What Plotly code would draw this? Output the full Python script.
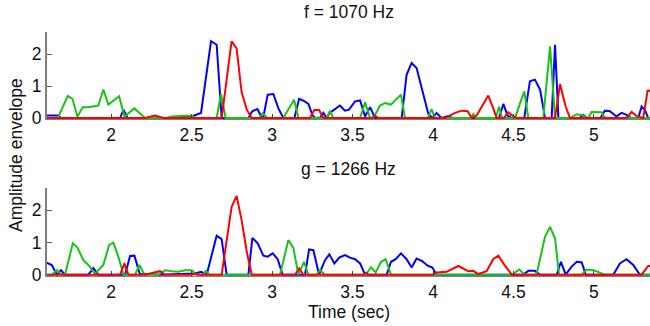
import plotly.graph_objects as go

# ---------------- data (time in sec, amplitude envelope) ----------------
x_ticks = [2, 2.5, 3, 3.5, 4, 4.5, 5]
x_tick_labels = ["2", "2.5", "3", "3.5", "4", "4.5", "5"]
y_ticks = [0, 1, 2]
y_tick_labels = ["0", "1", "2"]
titles = ["f = 1070 Hz", "g = 1266 Hz"]

# --- top panel: f = 1070 Hz ---
f_blue_t = [1.60, 1.67, 1.69, 2.056, 2.077, 2.103, 2.40, 2.45, 2.49, 2.522, 2.559, 2.621, 2.656, 2.687,
            2.853, 2.877, 2.909, 2.936, 2.945, 2.973, 3.008, 3.039, 3.07, 3.139, 3.168, 3.195, 3.226,
            3.25, 3.267, 3.30, 3.319, 3.339, 3.36, 3.391, 3.422, 3.453, 3.478, 3.516, 3.547, 3.578,
            3.609, 3.64, 3.805, 3.836, 3.867, 3.898, 3.939, 3.971, 3.996, 4.022, 4.053, 4.095, 4.12,
            4.41, 4.437, 4.463, 4.49, 4.567, 4.602, 4.633, 4.665, 4.696, 4.737, 4.758, 4.779, 4.91,
            4.934, 4.955, 5.04, 5.068, 5.099, 5.14, 5.171, 5.202, 5.23, 5.275, 5.296, 5.317, 5.337, 5.35]
f_blue_v = [0.08, 0.08, 0, 0, 0.26, 0, 0, 0.03, 0.03, 0.10, 0.16, 2.40, 2.29, 0,
            0, 0.21, 0.28, 0.02, 0, 0.73, 0.75, 0.31, 0, 0, 0.60, 0.54, 0.44,
            0.10, 0, 0.02, 0.16, 0, 0.17, 0.28, 0.39, 0.23, 0.26, 0.52, 0.55, 0.05,
            0.34, 0, 0, 1.35, 1.72, 1.56, 0.73, 0.125, 0, 0.16, 0, 0.06, 0,
            0, 0.44, 0.08, 0, 0, 1.15, 1.20, 0.89, 0, 0, 2.29, 0, 0,
            0.10, 0, 0, 0.23, 0.21, 0.05, 0.16, 0.10, 0, 0, 0.36, 0.25, 0, 0]

f_green_t = [1.60, 1.669, 1.731, 1.760, 1.791, 1.824, 1.859, 1.921, 1.952, 1.983, 2.050, 2.083, 2.145,
             2.211, 2.34, 2.38, 2.45, 2.50, 2.53, 2.656, 2.683, 2.712, 2.92, 2.942, 2.97, 3.07, 3.137,
             3.164, 3.34, 3.36, 3.38, 3.547, 3.578, 3.609, 3.63, 3.671, 3.702, 3.739, 3.801, 3.826,
             3.967, 3.991, 4.012, 4.236, 4.25, 4.266, 4.39, 4.41, 4.43, 4.509, 4.567, 4.592, 4.685,
             4.727, 4.758, 4.851, 4.893, 4.934, 4.965, 4.985, 5.048, 5.068, 5.35]
f_green_v = [0, 0, 0.69, 0.60, 0.04, 0.34, 0.34, 0.39, 0.89, 0.42, 0.68, 0.05, 0.30,
             0, 0, 0.05, 0.07, 0.07, 0, 0, 0.75, 0, 0, 0.15, 0, 0, 0.57,
             0, 0, 0.23, 0, 0, 0.49, 0, 0, 0.39, 0.47, 0.42, 0.73, 0,
             0, 0.28, 0, 0, 0.12, 0, 0, 0.35, 0, 0, 0.83, 0, 0,
             2.24, 0, 0, 0.12, 0.08, 0, 0.19, 0.18, 0, 0]

f_red_t = [1.60, 2.211, 2.273, 2.325, 2.687, 2.749, 2.78, 2.811, 2.843, 2.874, 3.236, 3.262, 3.292,
           3.319, 3.62, 3.64, 3.66, 4.075, 4.137, 4.178, 4.215, 4.24, 4.271, 4.343, 4.374, 4.395,
           4.44, 4.467, 4.50, 4.52, 4.758, 4.789, 4.824, 4.851, 5.202, 5.234, 5.265, 5.306, 5.333, 5.35]
f_red_v = [0, 0, 0.08, 0, 0, 2.40, 2.17, 0.81, 0.26, 0, 0, 0.25, 0.25,
           0, 0, 0.07, 0, 0, 0.16, 0.23, 0.21, 0, 0.08, 0.70, 0.31, 0,
           0, 0.18, 0.05, 0, 0, 1.06, 0.36, 0, 0, 0.19, 0.06, 0, 0.85, 0.85]

# --- bottom panel: g = 1266 Hz ---
g_blue_t = [1.60, 1.632, 1.663, 1.689, 1.714, 1.859, 1.89, 1.921, 2.087, 2.118, 2.145, 2.18, 2.20,
            2.26, 2.30, 2.522, 2.559, 2.594, 2.656, 2.687, 2.718, 2.853, 2.878, 2.911, 2.946, 2.973,
            3.004, 3.035, 3.066, 3.205, 3.23, 3.257, 3.292, 3.329, 3.356, 3.387, 3.418, 3.453, 3.484,
            3.516, 3.547, 3.578, 3.712, 3.739, 3.768, 3.801, 3.836, 3.867, 3.898, 3.933, 3.967, 3.996,
            4.022, 4.56, 4.592, 4.633, 4.665, 4.768, 4.795, 4.824, 4.861, 4.893, 4.924, 4.949, 5.12,
            5.161, 5.202, 5.244, 5.285, 5.35]
g_blue_v = [0.37, 0.30, 0, 0.14, 0, 0, 0.20, 0, 0, 0.58, 0.59, 0, 0.03,
            0.02, 0, 0.04, 0.09, 0, 1.21, 1.10, 0, 0, 1.14, 0.97, 0.59, 0.56,
            0.66, 0.48, 0, 0, 0.78, 0.76, 0, 0.45, 0.63, 0.35, 0.53, 0.61, 0.53,
            0.48, 0.35, 0, 0, 0.40, 0.48, 0.66, 0.48, 0.22, 0.50, 0.42, 0.28, 0.22,
            0, 0, 0.12, 0.12, 0, 0, 0.40, 0, 0.25, 0.40, 0.38, 0, 0,
            0.35, 0.48, 0.30, 0, 0]

g_green_t = [1.60, 1.632, 1.663, 1.69, 1.714, 1.762, 1.791, 1.828, 1.859, 1.90, 1.952, 1.988, 2.014,
             2.045, 2.077, 2.149, 2.176, 2.207, 2.294, 2.335, 2.376, 2.418, 2.46, 2.501, 2.532, 2.57,
             2.59, 2.61, 3.05, 3.101, 3.132, 3.164, 3.199, 3.226, 3.276, 3.298, 3.329, 3.582, 3.615,
             3.644, 3.677, 3.706, 3.739, 4.489, 4.536, 4.571, 4.643, 4.696, 4.727, 4.758, 4.783,
             4.924, 4.955, 4.997, 5.068, 5.35]
g_green_v = [0, 0, 0.14, 0.02, 0, 0.97, 0.84, 0.45, 0.30, 0.03, 0.30, 0.92, 0.99,
             0.56, 0, 0, 0.30, 0, 0, 0.14, 0.11, 0.09, 0.14, 0.14, 0, 0,
             0.12, 0, 0, 1.07, 0.84, 0, 0.40, 0, 0, 0.14, 0, 0, 0.23,
             0.07, 0.40, 0.48, 0, 0, 0.16, 0, 0, 1.18, 1.48, 1.12, 0,
             0, 0.16, 0.14, 0, 0]

g_red_t = [1.60, 2.056, 2.083, 2.108, 2.211, 2.304, 2.335, 2.50, 2.52, 2.55, 2.687, 2.749, 2.78,
           2.811, 2.843, 2.874, 3.143, 3.168, 3.195, 3.57, 3.584, 3.60, 4.00, 4.022, 4.084, 4.157,
           4.219, 4.25, 4.281, 4.333, 4.374, 4.406, 4.437, 4.489, 5.296, 5.337, 5.35]
g_red_v = [0, 0, 0.35, 0, 0, 0.11, 0, 0, 0.03, 0, 0, 2.10, 2.44,
           1.69, 0.71, 0, 0, 0.20, 0, 0, 0.06, 0, 0, 0.07, 0.09, 0.27,
           0.11, 0.12, 0.02, 0.11, 0.48, 0.59, 0.35, 0, 0, 0.27, 0.27]

# ---------------- figure ----------------
W, H = 650, 326
FONT = "Liberation Sans, Arial, sans-serif"
FS = 17.5
BLUE, GREEN, RED = "#0000ff", "#16c416", "#ff0000"

fig = go.Figure()

panels = [
    ("x", "y", [(f_blue_t, f_blue_v, BLUE), (f_green_t, f_green_v, GREEN), (f_red_t, f_red_v, RED)]),
    ("x2", "y2", [(g_blue_t, g_blue_v, BLUE), (g_green_t, g_green_v, GREEN), (g_red_t, g_red_v, RED)]),
]
for xa, ya, series in panels:
    for t, v, c in series:
        fig.add_trace(go.Scatter(x=t, y=v, mode="lines", xaxis=xa, yaxis=ya,
                                 line=dict(color=c, width=2), showlegend=False,
                                 hoverinfo="skip"))

x_dom = [47 / W, 1.0]
top_dom = [1 - 119.3 / H, 1 - 31.6 / H]
bot_dom = [1 - 276.0 / H, 1 - 187.5 / H]

xaxis_common = dict(range=[1.602, 5.348], tickvals=x_ticks, ticktext=x_tick_labels,
                    ticks="inside", ticklen=5, tickcolor="#444444", tickwidth=1,
                    showline=True, linecolor="#808080", linewidth=1,
                    showgrid=False, zeroline=False, automargin=False,
                    tickfont=dict(family=FONT, size=FS, color="#111111"), domain=x_dom)
yaxis_common = dict(range=[-0.04, 2.7], tickvals=y_ticks, ticktext=y_tick_labels,
                    ticks="inside", ticklen=5, tickcolor="#555555", tickwidth=1,
                    showline=True, linecolor="#808080", linewidth=2,
                    showgrid=False, zeroline=False, automargin=False,
                    tickfont=dict(family=FONT, size=FS, color="#111111"))

fig.update_layout(
    width=W, height=H,
    margin=dict(l=0, r=0, t=0, b=0, pad=0),
    paper_bgcolor="white", plot_bgcolor="white",
    xaxis=dict(**xaxis_common, anchor="y"),
    yaxis=dict(**yaxis_common, domain=top_dom, anchor="x"),
    xaxis2=dict(**xaxis_common, anchor="y2"),
    yaxis2=dict(**yaxis_common, domain=bot_dom, anchor="x2"),
    annotations=[
        dict(text=titles[0], x=348.5 / W, y=1 - 12 / H, xref="paper", yref="paper",
             xanchor="center", yanchor="middle", showarrow=False,
             font=dict(family=FONT, size=FS, color="#111111")),
        dict(text=titles[1], x=348.5 / W, y=1 - 169 / H, xref="paper", yref="paper",
             xanchor="center", yanchor="middle", showarrow=False,
             font=dict(family=FONT, size=FS, color="#111111")),
        dict(text="Time (sec)", x=349 / W, y=1 - 312 / H, xref="paper", yref="paper",
             xanchor="center", yanchor="middle", showarrow=False,
             font=dict(family=FONT, size=FS, color="#111111")),
        dict(text="Amplitude envelope", x=16 / W, y=1 - 155 / H, xref="paper", yref="paper",
             xanchor="center", yanchor="middle", showarrow=False, textangle=-90,
             font=dict(family=FONT, size=FS, color="#111111")),
    ],
)

fig.write_html("out.html",
               config={"displayModeBar": False},
               post_script="document.body.style.margin='0';document.body.style.padding='0';"
                           "document.body.style.overflow='hidden';")
